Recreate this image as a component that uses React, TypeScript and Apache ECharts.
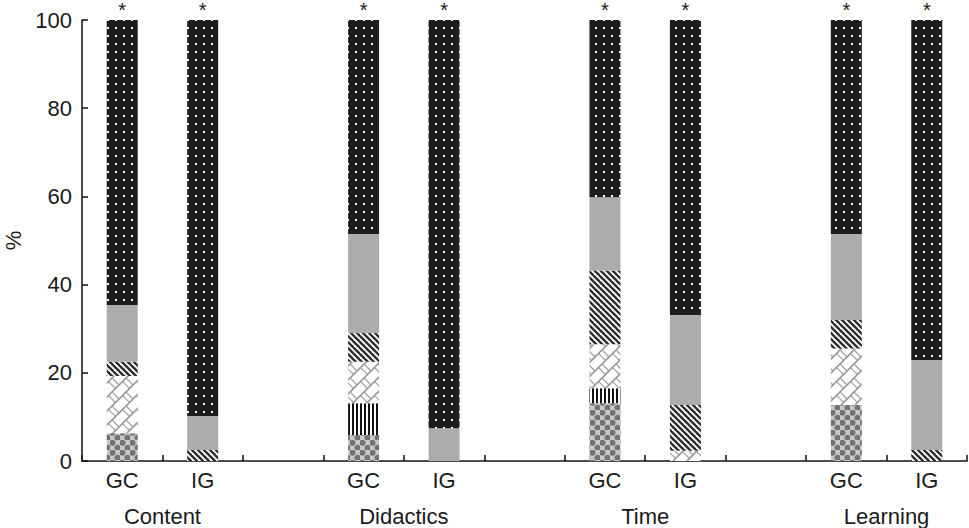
import React, { useEffect, useRef } from 'react';
import * as echarts from 'echarts';

const groups = ['Content', 'Didactics', 'Time', 'Learning'];
const subGroups = ['GC', 'IG'];
// bar order: Content GC, Content IG, Didactics GC, Didactics IG, Time GC, Time IG, Learning GC, Learning IG
const checkered = [6.3, 0, 5.9, 0, 13.1, 0, 12.7, 0];
const vertical = [0, 0, 7.2, 0, 3.4, 0, 0, 0];
const zigzag = [13.0, 0, 9.4, 0, 10.0, 2.3, 12.8, 0];
const diagonal = [3.2, 2.5, 6.5, 0, 16.7, 10.4, 6.5, 2.5];
const grey = [12.9, 7.7, 22.5, 7.4, 16.6, 20.4, 19.5, 20.4];
const dotted = [64.6, 89.8, 48.5, 92.6, 40.2, 66.9, 48.5, 77.1];
const significant = [true, true, true, true, true, true, true, true];
const yMin = 0;
const yMax = 100;
const yStep = 20;

const FONT = '"Liberation Sans", Arial, Helvetica, sans-serif';

function buildCategories(): string[] {
  const out: string[] = [];
  groups.forEach((_, gi) => {
    subGroups.forEach((s) => out.push(s));
    if (gi < groups.length - 1) out.push('');
  });
  return out;
}

function expand(values: any[]): any[] {
  const out: any[] = [];
  groups.forEach((_, gi) => {
    subGroups.forEach((__, si) => out.push(values[gi * subGroups.length + si]));
    if (gi < groups.length - 1) out.push('-');
  });
  return out;
}

function tile(w: number, h: number, draw: (ctx: CanvasRenderingContext2D) => void): any {
  const c = document.createElement('canvas');
  c.width = w;
  c.height = h;
  const ctx = c.getContext('2d') as CanvasRenderingContext2D;
  draw(ctx);
  return { image: c.toDataURL(), repeat: 'repeat', imageWidth: w, imageHeight: h };
}

function makePatterns() {
  const dots = tile(8, 8, (ctx) => {
    ctx.fillStyle = '#1d1d1d';
    ctx.fillRect(0, 0, 8, 8);
    ctx.fillStyle = '#ffffff';
    ctx.fillRect(3, 3, 2, 2);
  });
  const diag = tile(6, 6, (ctx) => {
    ctx.fillStyle = '#ffffff';
    ctx.fillRect(0, 0, 6, 6);
    ctx.strokeStyle = '#2e2e2e';
    ctx.lineWidth = 2.4;
    for (let x = -6; x <= 6; x += 6) {
      ctx.beginPath();
      ctx.moveTo(x - 1, -1);
      ctx.lineTo(x + 7, 7);
      ctx.stroke();
    }
  });
  const zig = tile(14, 14, (ctx) => {
    ctx.fillStyle = '#ffffff';
    ctx.fillRect(0, 0, 14, 14);
    ctx.strokeStyle = '#9c9c9c';
    ctx.lineWidth = 1.2;
    const segs = [
      [0, 14, 14, 0],
      [-14, 14, 0, 0],
      [14, 14, 28, 0],
      [0, 0, 7, 7],
      [10.5, 3.5, 17.5, 10.5],
    ];
    for (let dx = -14; dx <= 14; dx += 14) {
      for (let dy = -14; dy <= 14; dy += 14) {
        segs.forEach(([x1, y1, x2, y2]) => {
          ctx.beginPath();
          ctx.moveTo(x1 + dx, y1 + dy);
          ctx.lineTo(x2 + dx, y2 + dy);
          ctx.stroke();
        });
      }
    }
  });
  const vert = tile(4, 4, (ctx) => {
    ctx.fillStyle = '#ffffff';
    ctx.fillRect(0, 0, 4, 4);
    ctx.fillStyle = '#111111';
    ctx.fillRect(0, 0, 2, 4);
  });
  const check = tile(10, 10, (ctx) => {
    ctx.fillStyle = '#ffffff';
    ctx.fillRect(0, 0, 10, 10);
    ctx.fillStyle = '#c8c8c8';
    ctx.fillRect(5, 0, 5, 5);
    ctx.fillRect(0, 5, 5, 5);
    ctx.fillStyle = '#727272';
    ctx.beginPath();
    ctx.arc(2.5, 2.7, 3.0, 0, Math.PI * 2);
    ctx.fill();
    ctx.beginPath();
    ctx.arc(7.5, 7.7, 3.0, 0, Math.PI * 2);
    ctx.fill();
  });
  return { dots, diag, zig, vert, check };
}

export default function App() {
  const ref = useRef<HTMLDivElement>(null);

  useEffect(() => {
    if (!ref.current) return;
    document.body.style.margin = '0';
    const chart = echarts.init(ref.current, undefined, { renderer: 'svg' });
    const p = makePatterns();
    const categories = buildCategories();
    const nCat = categories.length;
    const groupLabelAt: Record<number, string> = {};
    groups.forEach((g, gi) => {
      groupLabelAt[gi * (subGroups.length + 1) + 1] = g;
    });

    const mk = (name: string, values: number[], color: any, extra: any = {}) => ({
      name,
      type: 'bar',
      stack: 'total',
      barWidth: 31,
      xAxisIndex: 0,
      data: expand(values),
      itemStyle: { color },
      emphasis: { disabled: true },
      ...extra,
    });

    chart.setOption({
      animation: false,
      backgroundColor: '#ffffff',
      grid: { left: 82, right: 2, top: 20, bottom: 67, containLabel: false, outerBoundsMode: 'none' },
      xAxis: [
        {
          type: 'category',
          data: categories,
          axisLine: { show: true, lineStyle: { color: '#111', width: 1.5 } },
          axisTick: { show: true, inside: true, length: 6, lineStyle: { color: '#111', width: 1.5 } },
          axisLabel: { color: '#1a1a1a', fontSize: 22, fontFamily: FONT, margin: 8, interval: 0 },
          splitLine: { show: false },
        },
        {
          type: 'value',
          position: 'bottom',
          min: 0,
          max: nCat,
          interval: 1,
          axisLine: { show: false },
          axisTick: { show: false },
          splitLine: { show: false },
          axisLabel: {
            color: '#1a1a1a',
            fontSize: 22,
            fontFamily: FONT,
            margin: 44,
            formatter: (v: number) => groupLabelAt[Math.round(v)] || '',
          },
        },
      ],
      yAxis: {
        type: 'value',
        min: yMin,
        max: yMax,
        interval: yStep,
        name: '%',
        nameLocation: 'middle',
        nameGap: 56,
        nameTextStyle: { color: '#1a1a1a', fontSize: 22, fontFamily: FONT },
        axisLine: { show: true, lineStyle: { color: '#111', width: 1.5 } },
        axisTick: { show: true, inside: true, length: 6, lineStyle: { color: '#111', width: 1.5 } },
        axisLabel: { color: '#1a1a1a', fontSize: 22, fontFamily: FONT, margin: 10 },
        splitLine: { show: false },
      },
      series: [
        mk('checkered', checkered, p.check),
        mk('vertical', vertical, p.vert),
        mk('zigzag', zigzag, p.zig),
        mk('diagonal', diagonal, p.diag),
        mk('grey', grey, '#acacac'),
        mk('dotted', dotted, p.dots, {
          label: {
            show: true,
            position: 'top',
            distance: 0,
            fontSize: 20,
            fontFamily: FONT,
            color: '#1a1a1a',
            formatter: (params: any) => {
              const idx = params.dataIndex;
              const bar = idx - Math.floor(idx / (subGroups.length + 1));
              return significant[bar] ? '*' : '';
            },
          },
        }),
      ],
    });

    return () => chart.dispose();
  }, []);

  return <div ref={ref} style={{ width: 969, height: 528 }} />;
}
